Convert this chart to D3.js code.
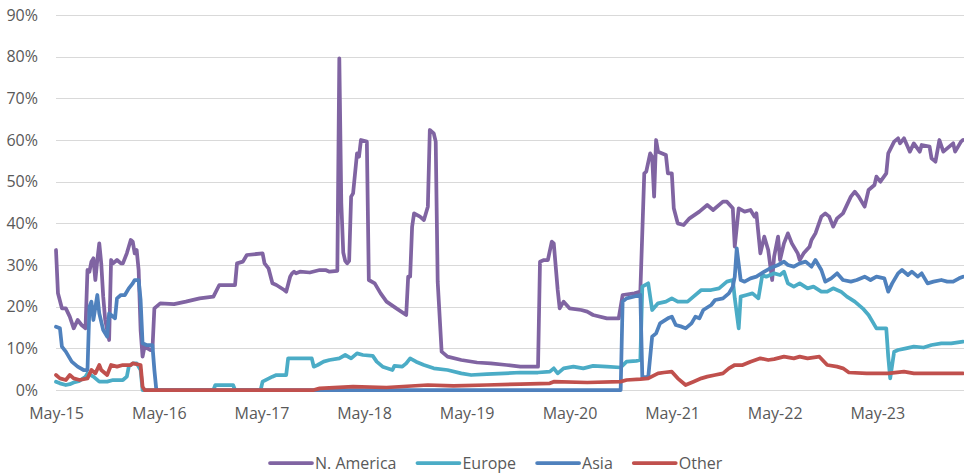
<!DOCTYPE html>
<html>
<head>
<meta charset="utf-8">
<script src="https://cdn.jsdelivr.net/npm/d3@7"></script>
<style>
  body { margin: 0; background: #fff; }
  svg { display: block; font-family: 'Open Sans', sans-serif; }
</style>
</head>
<body>
<script>
const width = 964
const height = 474
const margin = { top: 15, right: 1, bottom: 84, left: 56 }

// weekly data, x = weeks since 1 May 2015, y = share in %
const startYear = 2015
const lastWeek = 461
const seriesNames = ['N. America', 'Europe', 'Asia', 'Other']
const seriesColors = ['#8064a2', '#4bacc6', '#4f81bd', '#c0504d']
const yTicks = [0, 10, 20, 30, 40, 50, 60, 70, 80, 90]
const xTickYears = [2015, 2016, 2017, 2018, 2019, 2020, 2021, 2022, 2023]

const naData = [
  [0, 33.6], [1, 23.2], [3, 19.6], [5, 19.6], [7, 17.6], [9, 14.8], [11, 16.8], [13, 15.6], [15, 14.8],
  [16, 28.8], [17, 28.4], [18, 30.8], [19, 31.6], [20, 26.4], [21, 31.2], [22, 35.2], [23, 30.4], [24, 22.4],
  [25, 16.8], [27, 12], [28, 31.2], [29, 30.4], [31, 31.2], [33, 30.4], [34, 30.4], [36, 32.8], [38, 36],
  [39, 35.6], [40, 32.8], [41, 33.6], [42, 28.8], [43, 14.4], [44, 8], [45, 10.4], [48, 9.6], [49, 9.6],
  [50, 19.6], [53, 20.8], [60, 20.6], [66, 21.2], [73, 22], [80, 22.4], [83, 25.2], [91, 25.2], [92, 30.4],
  [95, 30.8], [97, 32.4], [105, 32.8], [106, 30.4], [108, 29.2], [110, 25.6], [112, 25.2], [116, 24],
  [117, 23.6], [119, 27.2], [120, 28], [121, 28.4], [122, 28], [124, 28.4], [129, 28.2], [134, 28.8],
  [137, 28.8], [139, 28.4], [143, 28.6], [144, 79.6], [145, 45], [146, 33], [147, 31], [148, 30.4],
  [149, 31], [150, 46.4], [151, 47.2], [153, 56.8], [154, 56], [155, 60], [158, 59.6], [159, 26.4],
  [162, 25.6], [165, 23.2], [168, 21.2], [173, 19.6], [178, 18], [179, 27.2], [180, 27.2], [181, 39.2],
  [182, 42.4], [185, 41.6], [187, 40.8], [189, 44], [190, 62.4], [192, 61.6], [193, 59.6], [194, 26],
  [196, 9.2], [199, 8], [206, 7.2], [214, 6.6], [221, 6.4], [229, 6], [236, 5.6], [245, 5.6], [246, 30.8],
  [248, 31.2], [250, 31.2], [252, 35.6], [253, 35.2], [255, 24], [256, 19.6], [258, 21.2], [261, 19.6],
  [267, 19.2], [270, 18.8], [273, 18], [280, 17.2], [286, 17.2], [288, 22.8], [294, 23.2], [297, 23.6],
  [299, 52], [300, 52.4], [302, 56.8], [303, 56], [304, 46.4], [305, 60], [306, 57.2], [310, 56.4],
  [311, 52], [313, 52], [314, 43.6], [316, 40], [319, 39.6], [322, 41.2], [327, 42.8], [331, 44.4],
  [334, 43.2], [339, 45.2], [341, 45.2], [344, 43.6], [345, 34.4], [347, 43.6], [350, 42.8], [353, 43.2],
  [355, 41.6], [356, 42.4], [358, 32.8], [360, 36.8], [362, 33.6], [364, 26.4], [365, 32], [367, 36.8],
  [368, 31.2], [370, 35.2], [372, 37.6], [374, 35.2], [377, 32.8], [378, 31.2], [380, 32.8], [383, 34.4],
  [384, 36], [386, 37.6], [389, 41.6], [391, 42.4], [393, 41.6], [395, 39.2], [397, 41.2], [400, 42.4],
  [404, 46.4], [406, 47.6], [408, 46.4], [411, 44], [413, 48], [416, 49.2], [417, 51.2], [419, 50],
  [422, 52], [423, 56.8], [426, 59.6], [428, 60.4], [429, 59.2], [431, 60.4], [434, 57.2], [436, 59.2],
  [439, 57.2], [440, 58.8], [444, 58.4], [445, 55.6], [447, 54.8], [449, 60], [451, 57.2], [454, 58.4],
  [456, 59.2], [457, 57.2], [460, 59.6], [461, 60]
]

const europeData = [
  [0, 2], [2, 1.6], [5, 1.2], [7, 1.4], [9, 1.8], [12, 2.2], [15, 3.2], [16, 4], [19, 3.2], [22, 2],
  [26, 2], [29, 2.4], [34, 2.4], [36, 3.2], [37, 5.6], [39, 6.4], [41, 6.4], [43, 4.8], [44, 0], [80, 0],
  [81, 1.2], [90, 1.2], [91, 0], [104, 0], [105, 2], [110, 3.2], [112, 3.6], [117, 3.6], [118, 7.6],
  [124, 7.6], [130, 7.6], [131, 5.6], [133, 6], [136, 6.8], [139, 7.2], [144, 7.6], [147, 8.4], [150, 7.6],
  [153, 8.8], [156, 8.4], [161, 8.2], [163, 6.8], [166, 5.6], [171, 4.8], [172, 5.8], [176, 5.6],
  [178, 6.4], [180, 7.6], [183, 6.8], [187, 6], [192, 5.2], [199, 4.8], [206, 4], [211, 3.6], [219, 3.8],
  [228, 4], [236, 4.2], [245, 4.2], [251, 4.4], [253, 5.2], [255, 4], [258, 5.2], [263, 5.6], [268, 5.2],
  [273, 5.8], [280, 5.6], [287, 5.4], [290, 6.8], [295, 7], [297, 7.2], [298, 24.8], [301, 25.6],
  [303, 19.2], [306, 20.8], [310, 21.2], [313, 22], [316, 21.2], [321, 21.2], [324, 22.4], [328, 24],
  [333, 24], [337, 24.4], [341, 26], [344, 26.4], [345, 22], [347, 14.8], [348, 22.4], [351, 22.8],
  [354, 23.2], [357, 22], [359, 27.6], [361, 27.2], [365, 28], [368, 27.6], [370, 28.4], [372, 25.6],
  [375, 24.8], [378, 25.6], [382, 24.4], [385, 24.8], [389, 23.6], [392, 23.6], [395, 24.4], [399, 23.6],
  [402, 22.4], [406, 21.2], [410, 19.6], [413, 18], [415, 16.4], [417, 14.8], [422, 14.8], [423, 8],
  [424, 2.8], [426, 9.2], [428, 9.6], [432, 10], [436, 10.4], [441, 10.2], [445, 10.8], [450, 11.2],
  [455, 11.2], [461, 11.6]
]

const asiaData = [
  [0, 15.2], [2, 14.8], [3, 10.4], [5, 9.2], [8, 6.8], [11, 5.6], [14, 4.8], [16, 4.8], [17, 20],
  [18, 21.2], [19, 16.8], [21, 22.8], [22, 18.4], [24, 14.4], [26, 12.8], [27, 18.4], [28, 18], [30, 17.2],
  [31, 22], [33, 22.8], [35, 22.8], [37, 24.4], [39, 25.6], [40, 26.4], [42, 26.4], [43, 21.6], [44, 11.2],
  [46, 10.8], [49, 10.8], [50, 4.8], [51, 0], [287, 0], [288, 21.2], [290, 22], [297, 22.8], [298, 3.2],
  [301, 3], [303, 12.8], [305, 13.6], [307, 16], [311, 17.2], [313, 17.6], [315, 15.6], [318, 15.2],
  [320, 14.8], [323, 16], [325, 17.6], [327, 17.2], [329, 19.2], [333, 20.4], [335, 21.6], [339, 22],
  [342, 23.2], [344, 24.8], [345, 27.2], [346, 34], [348, 26.4], [350, 26], [353, 26.8], [356, 27.2],
  [360, 28.4], [363, 29.2], [367, 30], [370, 30.8], [372, 30], [375, 29.6], [378, 30.4], [381, 30.8],
  [384, 29.6], [386, 31.2], [389, 28.8], [391, 26], [394, 26.8], [397, 28], [400, 26.4], [404, 26],
  [407, 26.4], [411, 27.2], [414, 26.4], [417, 27.2], [421, 26.8], [423, 23.6], [425, 25.6], [428, 28],
  [430, 28.8], [433, 27.6], [435, 28.4], [438, 27.2], [440, 28], [443, 25.6], [446, 26], [450, 26.4],
  [453, 26], [456, 26], [459, 26.8], [461, 27.2]
]

const otherData = [
  [0, 3.6], [2, 2.8], [5, 2.4], [7, 3.6], [9, 2.8], [12, 2.4], [16, 2.8], [18, 4.8], [20, 4], [22, 6],
  [23, 4.8], [26, 3.6], [28, 6], [31, 5.6], [34, 6], [38, 6], [39, 6.4], [43, 6], [44, 0.8], [45, 0],
  [131, 0], [134, 0.4], [151, 0.8], [168, 0.6], [189, 1.2], [202, 1], [219, 1.2], [236, 1.4], [251, 1.6],
  [253, 2], [270, 1.8], [287, 2], [290, 2.4], [297, 2.6], [301, 2.8], [306, 4], [309, 4.2], [313, 4.4],
  [316, 2.8], [320, 1.2], [324, 2], [328, 2.8], [331, 3.2], [335, 3.6], [339, 4], [342, 5.2], [345, 6],
  [349, 6], [353, 6.8], [358, 7.6], [362, 7.2], [365, 7.4], [370, 8], [375, 7.6], [378, 8], [382, 7.6],
  [388, 8], [392, 6], [397, 5.6], [400, 5.2], [403, 4.2], [412, 4], [423, 4], [431, 4.4], [436, 4],
  [445, 4], [461, 4]
]

const allSeries = [naData, europeData, asiaData, otherData]

const weekDate = w => new Date(startYear, 4, 1 + 7 * w)

let x = d3.scaleTime()
  .domain([weekDate(0), weekDate(lastWeek)])
  .range([margin.left, width - margin.right])

let y = d3.scaleLinear()
  .domain([0, 90])
  .range([height - margin.bottom, margin.top])

let svg = d3.select('body')
  .append('svg')
  .attr('width', width)
  .attr('height', height)

// gridlines
svg.append('g')
  .selectAll('line')
  .data(yTicks)
  .enter()
  .append('line')
  .attr('x1', margin.left)
  .attr('x2', width)
  .attr('y1', d => Math.round(y(d)) + 0.5)
  .attr('y2', d => Math.round(y(d)) + 0.5)
  .attr('stroke', '#d9d9d9')
  .attr('stroke-width', 1)

// y labels
svg.append('g')
  .selectAll('text')
  .data(yTicks)
  .enter()
  .append('text')
  .attr('x', 38)
  .attr('y', d => y(d))
  .attr('dy', '0.35em')
  .attr('text-anchor', 'end')
  .attr('fill', '#595959')
  .attr('font-size', '16px')
  .text(d => d + '%')

// x labels
let xAxis = d3.axisBottom(x)
  .tickValues(xTickYears.map(yr => new Date(yr, 4, 1)))
  .tickFormat(d3.timeFormat('%b-%y'))
  .tickSize(0)
  .tickPadding(0)

let gx = svg.append('g')
  .attr('transform', `translate(0, ${height - margin.bottom})`)
  .call(xAxis)
gx.select('.domain').remove()
gx.selectAll('text')
  .attr('y', 29)
  .attr('dy', 0)
  .attr('fill', '#595959')
  .attr('font-size', '16px')
  .attr('font-family', "'Open Sans', sans-serif")

let line = d3.line()
  .x(d => x(weekDate(d[0])))
  .y(d => y(d[1]))

svg.append('g')
  .selectAll('path')
  .data(allSeries)
  .enter()
  .append('path')
  .attr('d', line)
  .attr('fill', 'none')
  .attr('stroke', (d, i) => seriesColors[i])
  .attr('stroke-width', 3.75)
  .attr('stroke-linejoin', 'round')
  .attr('stroke-linecap', 'round')

// legend
let legend = svg.append('g')
let lx = 270
seriesNames.forEach((name, i) => {
  legend.append('line')
    .attr('x1', lx)
    .attr('x2', lx + 42)
    .attr('y1', 463)
    .attr('y2', 463)
    .attr('stroke', seriesColors[i])
    .attr('stroke-width', 3.75)
    .attr('stroke-linecap', 'round')
  let t = legend.append('text')
    .attr('x', lx + 45)
    .attr('y', 469)
    .attr('fill', '#595959')
    .attr('font-size', '16px')
    .text(name)
  lx += 45 + t.node().getComputedTextLength() + 21
})
</script>
</body>
</html>
